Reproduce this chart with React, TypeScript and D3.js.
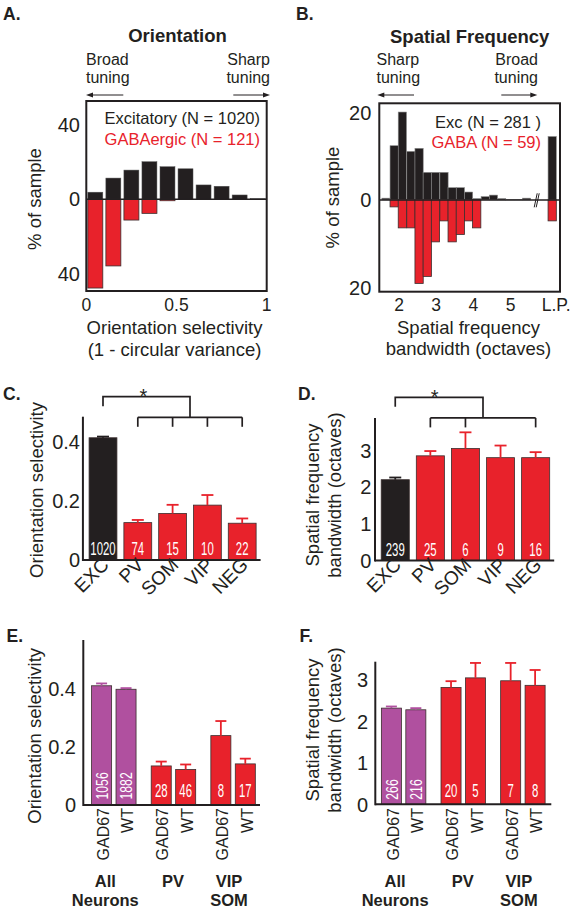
import React from 'react';
import * as d3 from 'd3';

const FONT = '"Liberation Sans", Arial, Helvetica, sans-serif';
const RED = '#E8222B';
const PURPLE = '#B0509F';
const BLACK = '#231F20';
const OUTLINE = '#3A2E2E';

// ---- Panel A: orientation selectivity histogram (% of sample) ----
const oriBinCenters = [0.05, 0.15, 0.25, 0.35, 0.45, 0.55, 0.65, 0.75, 0.85, 0.95];
const oriExcPct = [3.8, 11.4, 15.7, 20.2, 17.5, 16.4, 7.7, 7.0, 2.3, 0.3];
const oriGabaPct = [47.8, 35.9, 11.2, 7.6, 0.8, 0, 0, 0, 0, 0];
const oriXTicks = [0, 0.5, 1];
const oriYTicks = [40, 0, -40];

// ---- Panel B: spatial frequency bandwidth histogram (% of sample) ----
const sfBinCenters = [1.65, 1.87, 2.09, 2.32, 2.54, 2.76, 2.98, 3.21, 3.43, 3.65, 3.87, 4.09, 4.32, 4.54, 4.76, 4.98, 5.21, 5.43];
const sfExcPct = [0.4, 12.4, 20.1, 11.1, 11.8, 6.3, 6.3, 6.3, 2.8, 2.8, 1.8, 0.3, 0.75, 1.1, 0.3, 0.1, 0.1, 0.4];
const sfGabaPct = [0, 1.6, 6.4, 6.4, 19.1, 17.5, 9.6, 4.8, 9.6, 7.9, 4.8, 6.4, 0, 0, 0, 0, 0, 0];
const sfBinWidth = 0.2222;
const sfLowPass = 6.12;
const sfLowPassExc = 14.5;
const sfLowPassGaba = 4.8;
const sfBreak = 5.69;
const sfXTicks = [2, 3, 4, 5];
const sfYTicks = [20, 0, -20];

// ---- Panels C & D: by cell type ----
const cellTypes = ['EXC', 'PV', 'SOM', 'VIP', 'NEG'];
const cellColors = [BLACK, RED, RED, RED, RED];
const osMean = [0.412, 0.126, 0.157, 0.185, 0.124];
const osSem = [0.004, 0.009, 0.029, 0.034, 0.016];
const osN = ['1020', '74', '15', '10', '22'];
const osTicks = [0, 0.2, 0.4];
const bwMean = [2.2, 2.85, 3.05, 2.8, 2.8];
const bwSem = [0.06, 0.13, 0.44, 0.33, 0.15];
const bwN = ['239', '25', '6', '9', '16'];
const bwTicks = [0, 1, 2, 3];
const bwBracketLegs = ['PV', 'SOM', 'NEG'];
const osBracketLegs = ['PV', 'SOM', 'VIP', 'NEG'];

// ---- Panels E & F: GAD67 vs WT ----
const groupKeys = ['all', 'pv', 'vs'];
const groupLine1 = ['All', 'PV', 'VIP'];
const groupLine2 = ['Neurons', '', 'SOM'];
const groupColors = [PURPLE, RED, RED];
const strains = ['GAD67', 'WT'];
const osStrainMean = [[0.409, 0.397], [0.134, 0.122], [0.238, 0.141]];
const osStrainSem = [[0.008, 0.004], [0.015, 0.017], [0.05, 0.018]];
const osStrainN = [['1056', '1882'], ['28', '46'], ['8', '17']];
const bwStrainMean = [[2.32, 2.28], [2.82, 3.05], [2.98, 2.87]];
const bwStrainSem = [[0.04, 0.04], [0.15, 0.36], [0.43, 0.37]];
const bwStrainN = [['266', '216'], ['20', '5'], ['7', '8']];

const txt = { fontFamily: FONT, fill: BLACK } as const;
const TICK = 20;

function Arrow({ x1, x2, y, dir }: { x1: number; x2: number; y: number; dir: 'left' | 'right' }) {
  const hx = dir === 'left' ? x1 : x2;
  const s = dir === 'left' ? 1 : -1;
  return (
    <g>
      <line x1={x1 + (dir === 'left' ? 4 : 0)} x2={x2 - (dir === 'right' ? 4 : 0)} y1={y} y2={y} stroke={BLACK} strokeWidth={1} />
      <path d={`M${hx},${y} L${hx + 7 * s},${y - 2.6} L${hx + 7 * s},${y + 2.6} Z`} fill={BLACK} />
    </g>
  );
}

function Count({ x, y, text, vertical }: { x: number; y: number; text: string; vertical?: boolean }) {
  if (vertical) {
    return (
      <g transform={`translate(${x},${y}) rotate(-90) scale(0.72,1)`}>
        <text dy="0.36em" fontSize={17} fill="#fff" fontFamily={FONT} textAnchor="start">{text}</text>
      </g>
    );
  }
  return (
    <g transform={`translate(${x},${y}) scale(0.6,1)`}>
      <text fontSize={19} fill="#fff" fontFamily={FONT} textAnchor="middle">{text}</text>
    </g>
  );
}

function ErrBar({ x, y0, y1, color, cap = 12 }: { x: number; y0: number; y1: number; color: string; cap?: number }) {
  return (
    <g stroke={color} strokeWidth={1.8}>
      <line x1={x} x2={x} y1={y0} y2={y1} />
      <line x1={x - cap / 2} x2={x + cap / 2} y1={y1} y2={y1} />
    </g>
  );
}

function PanelA() {
  const x = d3.scaleLinear().domain([0, 1]).range([86.3, 266.7]);
  const y = d3.scaleLinear().domain([-49.4, 52.9]).range([291, 101]);
  const w = x(0.083) - x(0);
  return (
    <g>
      <text x={3} y={20} fontSize={17.5} fontWeight="bold" {...txt}>A.</text>
      <text x={177.5} y={41.7} fontSize={18.5} fontWeight="bold" textAnchor="middle" {...txt}>Orientation</text>
      <text x={86} y={65} fontSize={16} {...txt}>Broad</text>
      <text x={86} y={83} fontSize={16} {...txt}>tuning</text>
      <text x={270} y={65} fontSize={16} textAnchor="end" {...txt}>Sharp</text>
      <text x={270} y={83} fontSize={16} textAnchor="end" {...txt}>tuning</text>
      <Arrow x1={86} x2={123.3} y={95} dir="left" />
      <Arrow x1={233.3} x2={270} y={95} dir="right" />
      {oriBinCenters.map((c, i) => (
        <rect key={'e' + i} x={x(c) - w / 2} y={y(oriExcPct[i])} width={w} height={y(0) - y(oriExcPct[i])} fill={BLACK} stroke="#555" strokeWidth={0.5} />
      ))}
      {oriBinCenters.map((c, i) =>
        oriGabaPct[i] > 0 ? (
          <rect key={'g' + i} x={x(c) - w / 2} y={y(0)} width={w} height={y(-oriGabaPct[i]) - y(0)} fill={RED} stroke={OUTLINE} strokeWidth={0.8} />
        ) : null
      )}
      <line x1={x(0)} x2={x(1)} y1={y(0)} y2={y(0)} stroke={BLACK} strokeWidth={1.5} />
      <rect x={x(0)} y={y.range()[1]} width={x(1) - x(0)} height={y.range()[0] - y.range()[1]} fill="none" stroke={BLACK} strokeWidth={2} />
      {oriYTicks.map((t) => (
        <text key={t} x={80} y={y(t)} dy="0.36em" fontSize={TICK} textAnchor="end" {...txt}>{Math.abs(t)}</text>
      ))}
      {oriXTicks.map((t) => (
        <text key={t} x={x(t)} y={311} fontSize={17.5} textAnchor="middle" {...txt}>{t}</text>
      ))}
      <text x={260} y={124} fontSize={16.5} textAnchor="end" {...txt}>Excitatory (N = 1020)</text>
      <text x={260} y={145} fontSize={16.5} textAnchor="end" fontFamily={FONT} fill={RED}>GABAergic (N = 121)</text>
      <text transform={`translate(41,199) rotate(-90)`} fontSize={18.5} textAnchor="middle" {...txt}>% of sample</text>
      <text x={174.5} y={334} fontSize={18.5} textAnchor="middle" {...txt}>Orientation selectivity</text>
      <text x={174.5} y={356} fontSize={18.5} textAnchor="middle" {...txt}>(1 - circular variance)</text>
    </g>
  );
}

function PanelB() {
  const x = d3.scaleLinear().domain([1.47, 6.33]).range([379.3, 560]);
  const y = d3.scaleLinear().domain([-21, 22.1]).range([291.7, 103.3]);
  const w = x(sfBinWidth) - x(0);
  const bx = x(sfBreak);
  return (
    <g>
      <text x={296} y={20} fontSize={17.5} fontWeight="bold" {...txt}>B.</text>
      <text x={469.7} y={43} fontSize={18.5} fontWeight="bold" textAnchor="middle" {...txt}>Spatial Frequency</text>
      <text x={376.5} y={65} fontSize={16} {...txt}>Sharp</text>
      <text x={376.5} y={83} fontSize={16} {...txt}>tuning</text>
      <text x={538} y={65} fontSize={16} textAnchor="end" {...txt}>Broad</text>
      <text x={538} y={83} fontSize={16} textAnchor="end" {...txt}>tuning</text>
      <Arrow x1={377.3} x2={414} y={95} dir="left" />
      <Arrow x1={501.3} x2={537.3} y={95} dir="right" />
      {sfBinCenters.map((c, i) => (
        <rect key={'e' + i} x={x(c) - w / 2} y={y(sfExcPct[i])} width={w} height={y(0) - y(sfExcPct[i])} fill={BLACK} stroke="#8a8a8a" strokeWidth={0.6} />
      ))}
      {sfBinCenters.map((c, i) =>
        sfGabaPct[i] > 0 ? (
          <rect key={'g' + i} x={x(c) - w / 2} y={y(0)} width={w} height={y(-sfGabaPct[i]) - y(0)} fill={RED} stroke={OUTLINE} strokeWidth={0.8} />
        ) : null
      )}
      <rect x={x(sfLowPass) - w / 2} y={y(sfLowPassExc)} width={w} height={y(0) - y(sfLowPassExc)} fill={BLACK} stroke="#8a8a8a" strokeWidth={0.6} />
      <rect x={x(sfLowPass) - w / 2} y={y(0)} width={w} height={y(-sfLowPassGaba) - y(0)} fill={RED} stroke={OUTLINE} strokeWidth={0.8} />
      <line x1={x.range()[0]} x2={x.range()[1]} y1={y(0)} y2={y(0)} stroke={BLACK} strokeWidth={1.5} />
      <g stroke={BLACK} strokeWidth={1}>
        <line x1={bx - 2} y1={207.3} x2={bx + 1} y2={193.3} />
        <line x1={bx} y1={207.3} x2={bx + 3} y2={193.3} />
      </g>
      <rect x={x.range()[0]} y={y.range()[1]} width={x.range()[1] - x.range()[0]} height={y.range()[0] - y.range()[1]} fill="none" stroke={BLACK} strokeWidth={2} />
      {sfYTicks.map((t) => (
        <text key={t} x={371.3} y={y(t)} dy="0.36em" fontSize={TICK} textAnchor="end" {...txt}>{Math.abs(t)}</text>
      ))}
      {sfXTicks.map((t) => (
        <text key={t} x={x(t)} y={311} fontSize={17.5} textAnchor="middle" {...txt}>{t}</text>
      ))}
      <text x={x(sfLowPass) + 4} y={311} fontSize={17.5} textAnchor="middle" {...txt}>L.P.</text>
      <text x={541} y={128} fontSize={16.5} textAnchor="end" {...txt}>Exc (N = 281 )</text>
      <text x={541} y={148} fontSize={16.5} textAnchor="end" fontFamily={FONT} fill={RED}>GABA (N = 59)</text>
      <text transform={`translate(339,197.5) rotate(-90)`} fontSize={18.5} textAnchor="middle" {...txt}>% of sample</text>
      <text x={468.5} y={333.5} fontSize={18.5} textAnchor="middle" {...txt}>Spatial frequency</text>
      <text x={468.5} y={355} fontSize={18.5} textAnchor="middle" {...txt}>bandwidth (octaves)</text>
    </g>
  );
}

function CellTypePanel({ letter, lx, x0, x1, y0, yTop, domainMax, means, sems, ns, ticks, tickX, tickFmt, legs, bracketTop, starX, ylabel }: any) {
  const x = d3.scaleBand<string>().domain(cellTypes).range([x0, x1]).paddingInner(0.2).paddingOuter(0.1);
  const y = d3.scaleLinear().domain([0, domainMax]).range([y0, yTop]);
  const c = (k: string) => (x(k) as number) + x.bandwidth() / 2;
  const mid = (c('PV') + c('NEG')) / 2;
  const T = bracketTop;
  const L = T + 20.6;
  const axisX = x0 - x.step() * 0.1 + 0.8;
  return (
    <g>
      <text x={lx} y={400} fontSize={17.5} fontWeight="bold" {...txt}>{letter}</text>
      {cellTypes.map((k, i) => (
        <g key={k}>
          <rect x={x(k)} y={y(means[i])} width={x.bandwidth()} height={y(0) - y(means[i])} fill={cellColors[i]} stroke={OUTLINE} strokeWidth={0.8} />
          <ErrBar x={c(k)} y0={y(means[i])} y1={y(means[i] + sems[i])} color={cellColors[i]} />
          <Count x={c(k)} y={y0 - 5} text={ns[i]} />
          <text transform={`translate(${c(k) + 7},566) rotate(-45)`} fontSize={19} textAnchor="end" {...txt}>{k}</text>
        </g>
      ))}
      <line x1={axisX} x2={axisX} y1={yTop} y2={y0 + 1} stroke={BLACK} strokeWidth={2} />
      <line x1={axisX} x2={x1 + 1} y1={y0} y2={y0} stroke={BLACK} strokeWidth={2} />
      {ticks.map((t: number) => (
        <text key={t} x={tickX} y={y(t)} dy="0.36em" fontSize={TICK} textAnchor="end" {...txt}>{tickFmt(t)}</text>
      ))}
      <g stroke={BLACK} strokeWidth={1.7} fill="none">
        <path d={`M${c('EXC')},${T + 9.5} V${T} H${mid} V${L}`} />
        <line x1={c('PV')} x2={c('NEG')} y1={L} y2={L} />
        {legs.map((k: string) => (
          <line key={k} x1={c(k)} x2={c(k)} y1={L} y2={L + 9.5} />
        ))}
      </g>
      <text x={starX} y={T + 6.5} fontSize={20} textAnchor="middle" {...txt}>*</text>
      {ylabel}
    </g>
  );
}

function StrainPanel({ letter, lx, x0, x1, axisX, axisEnd, y0, yTop, domainMax, means, sems, ns, vertical, ticks, tickX, tickFmt, ylabel, countOffset }: any) {
  const outer = d3.scaleBand<string>().domain(groupKeys).range([x0, x1]);
  const inner = d3.scaleBand<string>().domain(strains).range([0, outer.bandwidth()]).paddingInner(0.18).paddingOuter(0.31);
  const y = d3.scaleLinear().domain([0, domainMax]).range([y0, yTop]);
  const labelOffsets = [-8.5, -0.5, -4];
  return (
    <g>
      <text x={lx} y={641.5} fontSize={17.5} fontWeight="bold" {...txt}>{letter}</text>
      {groupKeys.map((g, gi) => (
        <g key={g}>
          {strains.map((s, si) => {
            const bx = (outer(g) as number) + (inner(s) as number);
            const cx = bx + inner.bandwidth() / 2;
            const m = means[gi][si];
            return (
              <g key={s}>
                <rect x={bx} y={y(m)} width={inner.bandwidth()} height={y(0) - y(m)} fill={groupColors[gi]} stroke={OUTLINE} strokeWidth={0.8} />
                <ErrBar x={cx} y0={y(m)} y1={y(m + sems[gi][si])} color={groupColors[gi]} cap={11} />
                {vertical[gi] ? (
                  <Count x={cx} y={y0 - countOffset + 3} text={ns[gi][si]} vertical />
                ) : (
                  <Count x={cx} y={y0 - countOffset} text={ns[gi][si]} />
                )}
                <text transform={`translate(${cx + 1.5},808) rotate(-90)`} dy="0.36em" fontSize={16} textAnchor="end" {...txt}>{s}</text>
              </g>
            );
          })}
          <text x={(outer(g) as number) + outer.bandwidth() / 2 + labelOffsets[gi]} y={886.7} fontSize={16.5} fontWeight="bold" textAnchor="middle" {...txt}>{groupLine1[gi]}</text>
          {groupLine2[gi] ? (
            <text x={(outer(g) as number) + outer.bandwidth() / 2 + labelOffsets[gi]} y={906} fontSize={16.5} fontWeight="bold" textAnchor="middle" {...txt}>{groupLine2[gi]}</text>
          ) : null}
        </g>
      ))}
      <line x1={axisX} x2={axisX} y1={yTop} y2={y0 + 1} stroke={BLACK} strokeWidth={2} />
      <line x1={axisX} x2={axisEnd} y1={y0} y2={y0} stroke={BLACK} strokeWidth={2} />
      {ticks.map((t: number) => (
        <text key={t} x={tickX} y={y(t)} dy="0.36em" fontSize={TICK} textAnchor="end" {...txt}>{tickFmt(t)}</text>
      ))}
      {ylabel}
    </g>
  );
}

const fmtDec = (t: number) => (t === 0 ? '0' : d3.format('.1f')(t));
const fmtInt = (t: number) => String(t);

export default function App() {
  return (
    <svg width={576} height={909} style={{ position: 'absolute', left: 0, top: 0, background: '#fff' }}>
      <rect x={0} y={0} width={576} height={909} fill="#fff" />
      <PanelA />
      <PanelB />
      <CellTypePanel
        letter="C." lx={3} x0={85.6} x1={259.6} y0={560} yTop={416.7} domainMax={0.483}
        means={osMean} sems={osSem} ns={osN} ticks={osTicks} tickX={80} tickFmt={fmtDec}
        legs={osBracketLegs} bracketTop={396.7} starX={143.3}
        ylabel={<text transform="translate(43,490) rotate(-90)" fontSize={18.5} textAnchor="middle" {...txt}>Orientation selectivity</text>}
      />
      <CellTypePanel
        letter="D." lx={298} x0={377.7} x1={553.2} y0={560.5} yTop={418} domainMax={3.88}
        means={bwMean} sems={bwSem} ns={bwN} ticks={bwTicks} tickX={371.3} tickFmt={fmtInt}
        legs={bwBracketLegs} bracketTop={397.3} starX={434.7}
        ylabel={
          <g>
            <text transform="translate(319,495) rotate(-90)" fontSize={18.5} textAnchor="middle" {...txt}>Spatial frequency</text>
            <text transform="translate(341,495) rotate(-90)" fontSize={18.5} textAnchor="middle" {...txt}>bandwidth (octaves)</text>
          </g>
        }
      />
      <StrainPanel
        letter="E." lx={6.5} x0={84} x1={262.9} axisX={83.3} axisEnd={260} y0={805} yTop={640} domainMax={0.566}
        means={osStrainMean} sems={osStrainSem} ns={osStrainN} vertical={[true, false, false]}
        ticks={osTicks} tickX={76} tickFmt={fmtDec} countOffset={8.5}
        ylabel={<text transform="translate(41,735.8) rotate(-90)" fontSize={18.5} textAnchor="middle" {...txt}>Orientation selectivity</text>}
      />
      <StrainPanel
        letter="F." lx={299.5} x0={373.8} x1={552.7} axisX={375.3} axisEnd={551.3} y0={804.3} yTop={661.7} domainMax={3.44}
        means={bwStrainMean} sems={bwStrainSem} ns={bwStrainN} vertical={[true, false, false]}
        ticks={bwTicks} tickX={368} tickFmt={fmtInt} countOffset={7.6}
        ylabel={
          <g>
            <text transform="translate(319,730) rotate(-90)" fontSize={18.5} textAnchor="middle" {...txt}>Spatial frequency</text>
            <text transform="translate(341,730) rotate(-90)" fontSize={18.5} textAnchor="middle" {...txt}>bandwidth (octaves)</text>
          </g>
        }
      />
    </svg>
  );
}
